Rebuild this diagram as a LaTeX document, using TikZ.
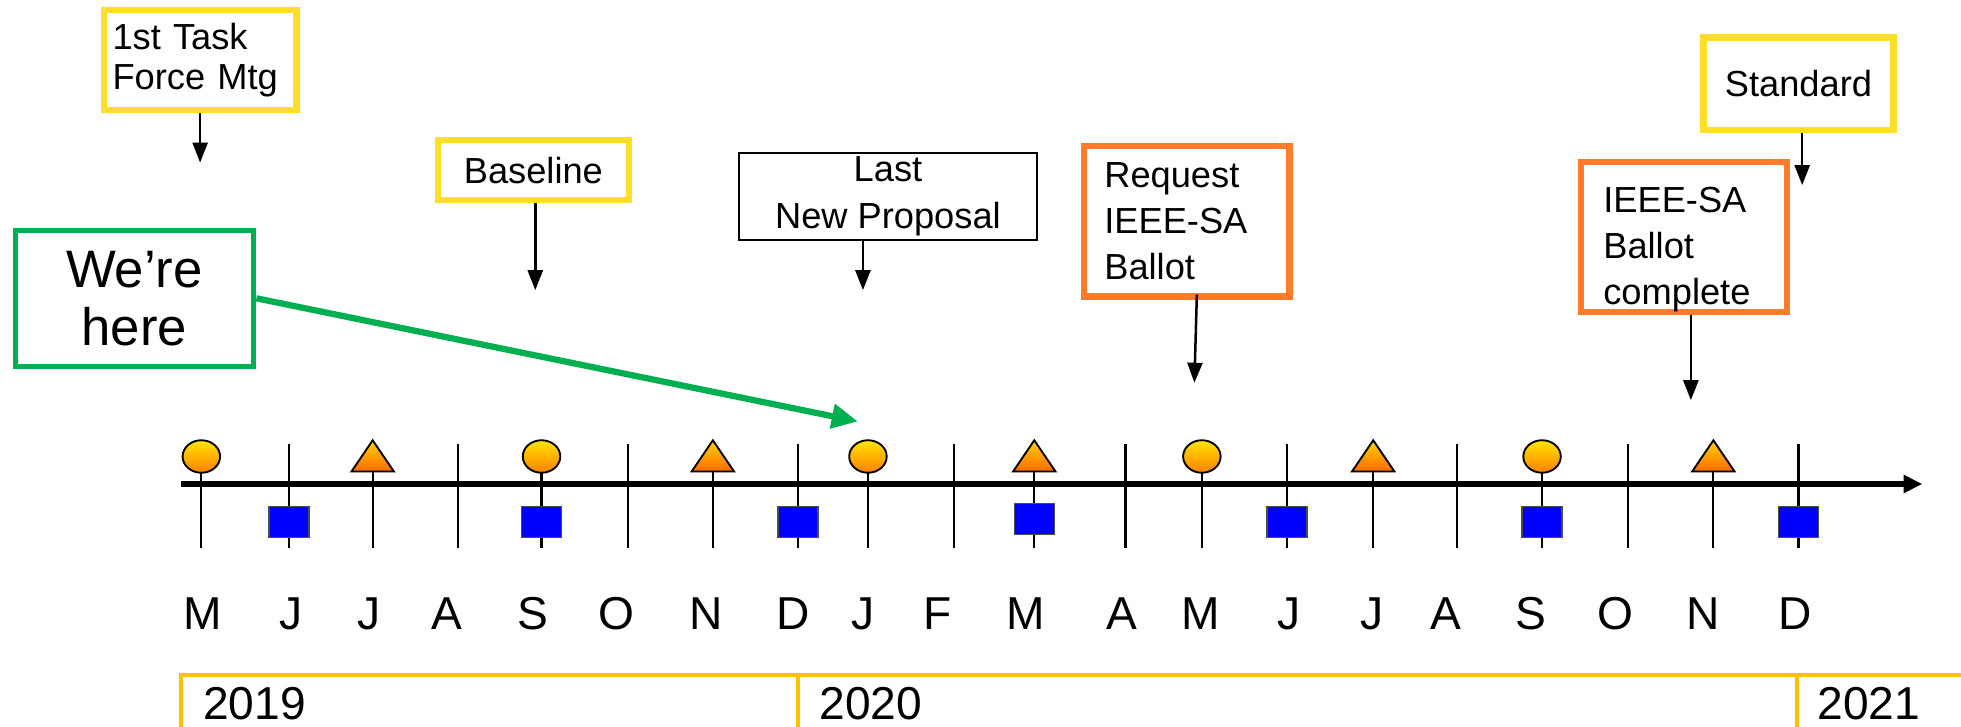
\documentclass[tikz,border=0pt]{standalone}
\usepackage{fontspec}
\setmainfont{Liberation Sans}
\usetikzlibrary{arrows.meta,shapes.geometric,calc}
\definecolor{boxyellow}{HTML}{FFDD2A}
\definecolor{boxorange}{HTML}{FF7B2B}
\definecolor{boxgreen}{HTML}{00B050}
\definecolor{yearline}{HTML}{FFC000}
\definecolor{sqblue}{HTML}{0000FF}
\definecolor{mtop}{HTML}{FFE500}
\definecolor{mbot}{HTML}{FF8000}
\definecolor{ttop}{HTML}{FFD200}
\definecolor{tbot}{HTML}{FF6A00}
\begin{document}
\begin{tikzpicture}[x=0.02cm,y=-0.02cm,
  milestone/.style={rectangle, line width=0.1cm, font=\fontsize{16.5}{21}\selectfont, inner sep=0pt, align=left},
  ybox/.style={milestone, draw=boxyellow},
  obox/.style={milestone, draw=boxorange},
  kbox/.style={milestone, draw=black, line width=0.03cm, align=center, font=\fontsize{16.5}{21.5}\selectfont},
  gbox/.style={milestone, draw=boxgreen, line width=0.08cm, align=center, font=\fontsize{24}{26.5}\selectfont},
  arr/.style={-{Triangle[length=0.32cm,width=0.24cm]}, line width=0.04cm},
  garr/.style={draw=boxgreen, line width=0.1cm, -{Triangle[length=0.42cm,width=0.38cm]}},
  axisline/.style={line width=0.1cm, -{Triangle[length=0.3cm,width=0.28cm]}},
  tickline/.style={line width=0.035cm},
  circmark/.style={ellipse, draw, line width=0.03cm, minimum width=0.6cm, minimum height=0.52cm, inner sep=0pt, top color=mtop, bottom color=mbot},
  trimark/.style={regular polygon, regular polygon sides=3, draw, line width=0.03cm, minimum size=0.784cm, inner sep=0pt, yscale=0.85, top color=ttop, bottom color=tbot},
  sqmark/.style={rectangle, draw=black!70, line width=0.02cm, fill=sqblue, minimum width=0.64cm, minimum height=0.5cm, inner sep=0pt},
  month/.style={font=\fontsize{21}{24}\selectfont, inner sep=0pt, anchor=base},
  yearlbl/.style={font=\fontsize{21}{24}\selectfont, inner sep=0pt, anchor=base west},
  yearl/.style={draw=yearline, line width=0.06cm}
]
\fill[white] (0,0) rectangle (1568,580.5);
\useasboundingbox (0,0) rectangle (1568,580.5);

% milestone boxes
\node[ybox, minimum width=3.08cm, minimum height=1.6cm, text width=2.8cm, font=\fontsize{16.5}{18.5}\selectfont] (task) at (160,48) {1st Task\\Force Mtg};
\node[ybox, minimum width=3.06cm, minimum height=0.96cm, align=center] (base) at (426.5,136) {Baseline};
\node[kbox, minimum width=4.76cm, minimum height=1.4cm] (last) at (710,157) {Last\\New Proposal};
\node[obox, minimum width=3.28cm, minimum height=2.4cm, text width=2.64cm] (req) at (949,177) {Request\\IEEE-SA\\Ballot};
\node[obox, minimum width=3.3cm, minimum height=2.38cm, text width=2.58cm] (comp) at (1346.5,189.5) {\rule{0pt}{0.8cm}IEEE-SA\\Ballot\\complete};
\node[ybox, minimum width=3.04cm, minimum height=1.48cm, align=center] (std) at (1438,67) {Standard};
\node[gbox, minimum width=3.82cm, minimum height=2.18cm] (we) at (107.5,238.5) {We’re\\here};

% arrows
\coordinate (taskTip) at (160,130);
\coordinate (baseTip) at (428,232);
\coordinate (lastTip) at (690,232);
\coordinate (reqTip) at (955,306);
\coordinate (compTip) at (1352,320);
\coordinate (stdTip) at (1441,148);
\coordinate (here) at (686,337);
\draw[arr] (task.south) -- (taskTip);
\draw[arr] (base.south -| baseTip) -- (baseTip);
\draw[arr] (last.south -| lastTip) -- (lastTip);
\draw[arr] ($(req.south)+(8,-4)$) -- (reqTip);
\draw[arr] (comp.south -| compTip) -- (compTip);
\draw[arr] (std.south -| stdTip) -- (stdTip);
\draw[garr] (we.east) -- (here);

% ticks
\foreach \x in {161,231,298,366,433,502,570,638,694,763,827,900,961,1029,1098,1165,1233,1302,1370,1438}
  \draw[tickline] (\x,355) -- (\x,438);

% axis
\coordinate (ax0) at (145,387);
\coordinate (ax1) at (1537,387);
\draw[axisline] (ax0) -- (ax1);

% markers
\foreach \x [count=\i] in {161,433,694,961,1233}
  \node[circmark] (circ\i) at (\x,365) {};
\foreach \x [count=\i] in {298,570,827,1098,1370}
  \node[trimark] (tri\i) at (\x,368.7) {};
\foreach \x [count=\i] in {231,433,638,1029,1233,1438}
  \node[sqmark] (sq\i) at (\x,417.5) {};
\node[sqmark] (sqM) at (827,415) {};

% month labels
\foreach \x/\m [count=\i] in {162/M,233/J,295/J,357/A,426/S,493/O,565/N,634/D,690/J,750/F,820/M,897/A,960/M,1031/J,1097/J,1156/A,1224/S,1292/O,1362/N,1435/D}
  \node[month] (mon\i) at (\x,503) {\m};

% years
\draw[yearl] (145,582) -- (145,540) -- (1570,540);
\draw[yearl] (638,540) -- (638,582);
\draw[yearl] (1437,540) -- (1437,582);
\node[yearlbl] (y2019) at (162,575) {2019};
\node[yearlbl] (y2020) at (655,575) {2020};
\node[yearlbl] (y2021) at (1453,575) {2021};
\end{tikzpicture}
\end{document}
